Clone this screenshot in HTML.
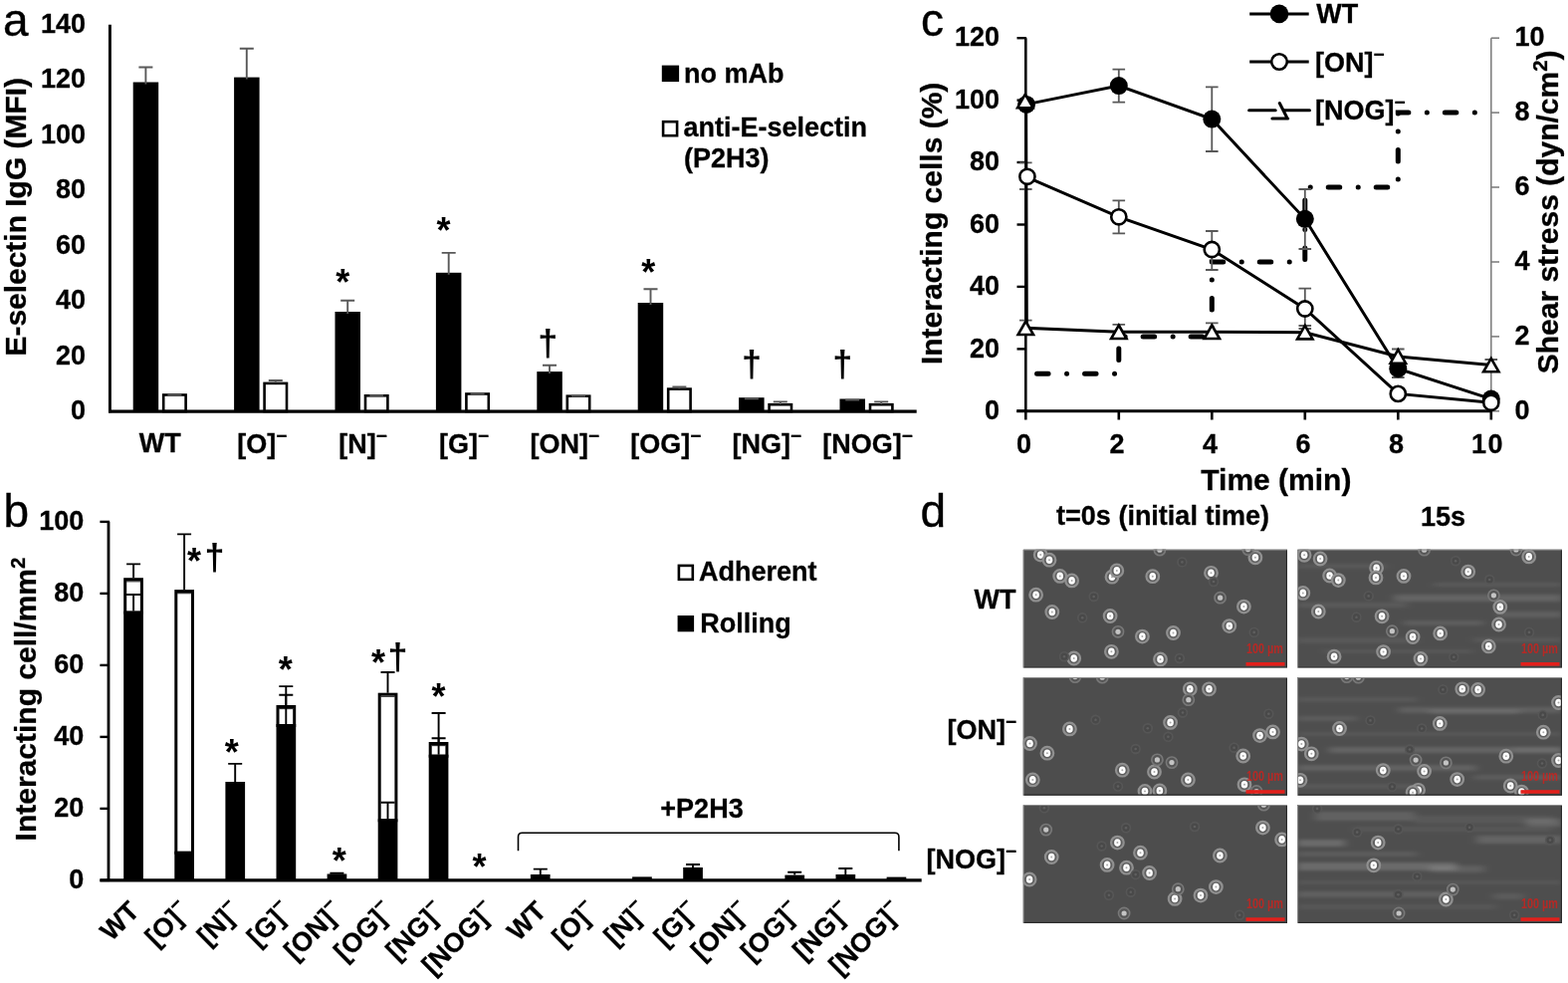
<!DOCTYPE html><html><head><meta charset="utf-8"><title>Figure</title><style>html,body{margin:0;padding:0;background:#fff;}svg{display:block;}text{font-family:"Liberation Sans", Arial, sans-serif;fill:#000;}.t27{font-size:27px;font-weight:bold;stroke:#000;stroke-width:0.3px;}.t24{font-size:24px;font-weight:bold;}.t30{font-size:30px;font-weight:bold;stroke:#000;stroke-width:0.3px;}.sm{font-size:19px;}.sup2{font-size:20.5px;}.ast{font-size:36px;font-weight:bold;}.dag{font-size:36px;font-weight:bold;}.pl{font-size:46px;font-weight:normal;stroke:#000;stroke-width:0.35px;}.sb{font-size:15px;font-weight:bold;fill:#d0201c;fill-opacity:0.8;}.eg{stroke:#595959;stroke-width:1.9;fill:none;}.eb{stroke:#000;stroke-width:1.9;fill:none;}</style></head><body>
<svg width="1575" height="987" viewBox="0 0 1575 987">
<rect width="1575" height="987" fill="#fff"/>
<text class="pl" x="3" y="36">a</text>
<text class="pl" x="3.6" y="528.6">b</text>
<text class="pl" x="925" y="35.5">c</text>
<text class="pl" x="924.6" y="528.6">d</text>
<text class="t30" transform="translate(25.8,357.5) rotate(-90)" textLength="279.5" lengthAdjust="spacingAndGlyphs">E-selectin IgG (MFI)</text>
<text class="t27" x="86" y="421.2" text-anchor="end">0</text>
<text class="t27" x="86" y="365.7" text-anchor="end">20</text>
<text class="t27" x="86" y="310.2" text-anchor="end">40</text>
<text class="t27" x="86" y="254.8" text-anchor="end">60</text>
<text class="t27" x="86" y="199.3" text-anchor="end">80</text>
<text class="t27" x="86" y="143.8" text-anchor="end">100</text>
<text class="t27" x="86" y="88.3" text-anchor="end">120</text>
<text class="t27" x="86" y="32.8" text-anchor="end">140</text>
<rect x="133.7" y="82.5" width="25.5" height="330.5" fill="#000"/>
<path class="eg" d="M146.4 84.5V67.5M139.4 67.5h14"/>
<rect x="164.2" y="396.5" width="22.4" height="16.5" fill="#fff" stroke="#000" stroke-width="2.6"/>
<path class="eg" d="M175.4 396.5V396.5M168.4 396.5h14"/>
<text class="t27" x="160.8" y="454.0" text-anchor="middle">WT</text>
<rect x="235.1" y="77.6" width="25.5" height="335.4" fill="#000"/>
<path class="eg" d="M247.8 79.6V48.8M240.8 48.8h14"/>
<rect x="265.6" y="384.9" width="22.4" height="28.1" fill="#fff" stroke="#000" stroke-width="2.6"/>
<path class="eg" d="M276.8 384.6V382.0M269.8 382.0h14"/>
<text class="t27" x="263.2" y="455.0" text-anchor="middle">[O]<tspan class="sm" dy="-11.5">−</tspan></text>
<rect x="336.5" y="313.0" width="25.5" height="100.0" fill="#000"/>
<path class="eg" d="M349.2 315.0V301.7M342.2 301.7h14"/>
<rect x="367.0" y="397.3" width="22.4" height="15.7" fill="#fff" stroke="#000" stroke-width="2.6"/>
<path class="eg" d="M378.2 397.2V397.2M371.2 397.2h14"/>
<text class="t27" x="364.6" y="455.0" text-anchor="middle">[N]<tspan class="sm" dy="-11.5">−</tspan></text>
<rect x="437.9" y="273.8" width="25.5" height="139.2" fill="#000"/>
<path class="eg" d="M450.7 275.8V253.9M443.7 253.9h14"/>
<rect x="468.4" y="395.5" width="22.4" height="17.5" fill="#fff" stroke="#000" stroke-width="2.6"/>
<path class="eg" d="M479.6 395.4V395.4M472.6 395.4h14"/>
<text class="t27" x="466.0" y="455.0" text-anchor="middle">[G]<tspan class="sm" dy="-11.5">−</tspan></text>
<rect x="539.3" y="373.1" width="25.5" height="39.9" fill="#000"/>
<path class="eg" d="M552.0 375.1V366.8M545.0 366.8h14"/>
<rect x="569.8" y="397.7" width="22.4" height="15.3" fill="#fff" stroke="#000" stroke-width="2.6"/>
<path class="eg" d="M581.0 397.6V397.6M574.0 397.6h14"/>
<text class="t27" x="567.4" y="455.0" text-anchor="middle">[ON]<tspan class="sm" dy="-11.5">−</tspan></text>
<rect x="640.7" y="304.0" width="25.5" height="109.0" fill="#000"/>
<path class="eg" d="M653.5 306.0V290.3M646.5 290.3h14"/>
<rect x="671.2" y="390.6" width="22.4" height="22.4" fill="#fff" stroke="#000" stroke-width="2.6"/>
<path class="eg" d="M682.4 390.3V388.4M675.4 388.4h14"/>
<text class="t27" x="668.8" y="455.0" text-anchor="middle">[OG]<tspan class="sm" dy="-11.5">−</tspan></text>
<rect x="742.1" y="399.2" width="25.5" height="13.8" fill="#000"/>
<path class="eg" d="M754.9 401.2V400.2M747.9 400.2h14"/>
<rect x="772.6" y="406.2" width="22.4" height="6.8" fill="#fff" stroke="#000" stroke-width="2.6"/>
<path class="eg" d="M783.8 405.9V403.4M776.8 403.4h14"/>
<text class="t27" x="770.2" y="455.0" text-anchor="middle">[NG]<tspan class="sm" dy="-11.5">−</tspan></text>
<rect x="843.5" y="400.5" width="25.5" height="12.5" fill="#000"/>
<path class="eg" d="M856.2 402.5V401.6M849.2 401.6h14"/>
<rect x="874.0" y="406.2" width="22.4" height="6.8" fill="#fff" stroke="#000" stroke-width="2.6"/>
<path class="eg" d="M885.2 405.9V403.4M878.2 403.4h14"/>
<text class="t27" x="871.6" y="455.0" text-anchor="middle">[NOG]<tspan class="sm" dy="-11.5">−</tspan></text>
<path d="M110.4 24.7V414.2" stroke="#000" stroke-width="2.9" fill="none"/>
<path d="M109 413.1H920.7" stroke="#000" stroke-width="3.3" fill="none"/>
<text class="ast" x="344.2" y="295.5" text-anchor="middle">*</text>
<text class="ast" x="445.4" y="243.5" text-anchor="middle">*</text>
<text class="ast" x="651.3" y="286" text-anchor="middle">*</text>
<text class="dag" x="550.3" y="356.5" text-anchor="middle">†</text>
<text class="dag" x="754.9" y="377.6" text-anchor="middle">†</text>
<text class="dag" x="846.2" y="377.6" text-anchor="middle">†</text>
<rect x="664.8" y="65.6" width="17.3" height="16.5" fill="#000"/>
<text class="t27" x="687" y="82.6">no mAb</text>
<rect x="666.1" y="122.2" width="14" height="14" fill="#fff" stroke="#000" stroke-width="2.6"/>
<text class="t27" x="686.5" y="136.6">anti-E-selectin</text>
<text class="t27" x="687" y="168">(P2H3)</text>
<text class="t30" transform="translate(35.7,844.4) rotate(-90)">Interacting cell/mm<tspan class="sup2" dy="-11">2</tspan></text>
<text class="t27" x="84.4" y="892.1" text-anchor="end">0</text>
<path d="M100.4 883.9H110" stroke="#000" stroke-width="2.4"/>
<text class="t27" x="84.4" y="820.1" text-anchor="end">20</text>
<path d="M100.4 811.9H110" stroke="#000" stroke-width="2.4"/>
<text class="t27" x="84.4" y="748.1" text-anchor="end">40</text>
<path d="M100.4 739.9H110" stroke="#000" stroke-width="2.4"/>
<text class="t27" x="84.4" y="676.1" text-anchor="end">60</text>
<path d="M100.4 667.9H110" stroke="#000" stroke-width="2.4"/>
<text class="t27" x="84.4" y="604.1" text-anchor="end">80</text>
<path d="M100.4 595.9H110" stroke="#000" stroke-width="2.4"/>
<text class="t27" x="84.4" y="532.1" text-anchor="end">100</text>
<path d="M100.4 523.9H110" stroke="#000" stroke-width="2.4"/>
<path class="eb" d="M134.1 580.2V566.4M127.1 566.4h14"/>
<rect x="125.7" y="581.7" width="16.7" height="33.4" fill="#fff" stroke="#000" stroke-width="3.0"/>
<path d="M126.8 583.8H141.3" stroke="#222" stroke-width="1.1"/>
<rect x="124.2" y="613.6" width="19.7" height="270.3" fill="#000"/>
<path class="eb" d="M134.1 613.6V597.0M127.1 597.0h14"/>
<path class="eb" d="M185.1 592.1V536.4M178.1 536.4h14"/>
<rect x="176.8" y="593.6" width="16.7" height="262.7" fill="#fff" stroke="#000" stroke-width="3.0"/>
<path d="M177.9 595.7H192.4" stroke="#222" stroke-width="1.1"/>
<rect x="175.3" y="854.8" width="19.7" height="29.1" fill="#000"/>
<path class="eb" d="M236.2 785.0V766.9M229.2 766.9h14"/>
<rect x="226.4" y="785.0" width="19.7" height="98.9" fill="#000"/>
<path class="eb" d="M287.3 708.0V689.1M280.3 689.1h14"/>
<rect x="279.0" y="709.5" width="16.7" height="19.0" fill="#fff" stroke="#000" stroke-width="3.0"/>
<path d="M280.1 711.6H294.6" stroke="#222" stroke-width="1.1"/>
<rect x="277.5" y="727.0" width="19.7" height="156.9" fill="#000"/>
<path class="eb" d="M287.3 727.0V697.7M280.3 697.7h14"/>
<path class="eb" d="M338.4 877.5V876.8M331.4 876.8h14"/>
<rect x="328.6" y="877.5" width="19.7" height="6.4" fill="#000"/>
<path class="eb" d="M389.5 695.7V675.0M382.5 675.0h14"/>
<rect x="381.2" y="697.2" width="16.7" height="126.6" fill="#fff" stroke="#000" stroke-width="3.0"/>
<path d="M382.3 699.3H396.8" stroke="#222" stroke-width="1.1"/>
<rect x="379.7" y="822.3" width="19.7" height="61.6" fill="#000"/>
<path class="eb" d="M389.5 822.3V805.8M382.5 805.8h14"/>
<path class="eb" d="M440.6 745.0V716.0M433.6 716.0h14"/>
<rect x="432.2" y="746.5" width="16.7" height="12.7" fill="#fff" stroke="#000" stroke-width="3.0"/>
<path d="M433.3 748.6H447.8" stroke="#222" stroke-width="1.1"/>
<rect x="430.7" y="757.7" width="19.7" height="126.2" fill="#000"/>
<path class="eb" d="M440.6 757.7V741.3M433.6 741.3h14"/>
<path class="eb" d="M542.8 878.0V872.6M535.8 872.6h14"/>
<rect x="532.9" y="878.0" width="19.7" height="5.9" fill="#000"/>
<rect x="635.1" y="880.4" width="19.7" height="3.5" fill="#000"/>
<path class="eb" d="M696.0 871.0V868.0M689.0 868.0h14"/>
<rect x="686.2" y="871.0" width="19.7" height="12.9" fill="#000"/>
<path class="eb" d="M798.2 878.6V875.7M791.2 875.7h14"/>
<rect x="788.4" y="878.6" width="19.7" height="5.3" fill="#000"/>
<path class="eb" d="M849.3 878.0V872.0M842.3 872.0h14"/>
<rect x="839.5" y="878.0" width="19.7" height="5.9" fill="#000"/>
<rect x="890.6" y="880.6" width="19.7" height="3.3" fill="#000"/>
<path d="M109 523.8V885" stroke="#000" stroke-width="2.8" fill="none"/>
<path d="M100.4 883.9H925.7" stroke="#000" stroke-width="3.2" fill="none"/>
<text class="t27" transform="translate(141.4,916.3) rotate(-45)" text-anchor="end">WT</text>
<text class="t27" transform="translate(192.4,916.3) rotate(-45)" text-anchor="end">[O]<tspan class="sm" dy="-11.5">−</tspan></text>
<text class="t27" transform="translate(243.5,916.3) rotate(-45)" text-anchor="end">[N]<tspan class="sm" dy="-11.5">−</tspan></text>
<text class="t27" transform="translate(294.6,916.3) rotate(-45)" text-anchor="end">[G]<tspan class="sm" dy="-11.5">−</tspan></text>
<text class="t27" transform="translate(345.7,916.3) rotate(-45)" text-anchor="end">[ON]<tspan class="sm" dy="-11.5">−</tspan></text>
<text class="t27" transform="translate(396.8,916.3) rotate(-45)" text-anchor="end">[OG]<tspan class="sm" dy="-11.5">−</tspan></text>
<text class="t27" transform="translate(447.9,916.3) rotate(-45)" text-anchor="end">[NG]<tspan class="sm" dy="-11.5">−</tspan></text>
<text class="t27" transform="translate(499.0,916.3) rotate(-45)" text-anchor="end">[NOG]<tspan class="sm" dy="-11.5">−</tspan></text>
<text class="t27" transform="translate(550.1,916.3) rotate(-45)" text-anchor="end">WT</text>
<text class="t27" transform="translate(601.2,916.3) rotate(-45)" text-anchor="end">[O]<tspan class="sm" dy="-11.5">−</tspan></text>
<text class="t27" transform="translate(652.2,916.3) rotate(-45)" text-anchor="end">[N]<tspan class="sm" dy="-11.5">−</tspan></text>
<text class="t27" transform="translate(703.3,916.3) rotate(-45)" text-anchor="end">[G]<tspan class="sm" dy="-11.5">−</tspan></text>
<text class="t27" transform="translate(754.4,916.3) rotate(-45)" text-anchor="end">[ON]<tspan class="sm" dy="-11.5">−</tspan></text>
<text class="t27" transform="translate(805.5,916.3) rotate(-45)" text-anchor="end">[OG]<tspan class="sm" dy="-11.5">−</tspan></text>
<text class="t27" transform="translate(856.6,916.3) rotate(-45)" text-anchor="end">[NG]<tspan class="sm" dy="-11.5">−</tspan></text>
<text class="t27" transform="translate(907.7,916.3) rotate(-45)" text-anchor="end">[NOG]<tspan class="sm" dy="-11.5">−</tspan></text>
<text class="ast" x="195" y="575.5" text-anchor="middle">*</text>
<text class="dag" x="215.5" y="572.4" text-anchor="middle">†</text>
<text class="ast" x="232.7" y="768" text-anchor="middle">*</text>
<text class="ast" x="286.8" y="685" text-anchor="middle">*</text>
<text class="ast" x="340.8" y="877.3" text-anchor="middle">*</text>
<text class="ast" x="380" y="678" text-anchor="middle">*</text>
<text class="dag" x="399.6" y="672" text-anchor="middle">†</text>
<text class="ast" x="440.5" y="711.5" text-anchor="middle">*</text>
<text class="ast" x="481.5" y="883" text-anchor="middle">*</text>
<path d="M520.5 854.3V840.3Q520.5 836.3 524.5 836.3H898.9Q902.9 836.3 902.9 840.3V854.3" stroke="#000" stroke-width="1.6" fill="none"/>
<text class="t27" x="705" y="821.4" text-anchor="middle">+P2H3</text>
<rect x="681.9" y="567.9" width="13.9" height="13.9" fill="#fff" stroke="#000" stroke-width="2.6"/>
<text class="t27" x="702" y="583.4">Adherent</text>
<rect x="680.6" y="618" width="16.5" height="16.3" fill="#000"/>
<text class="t27" x="703.2" y="634.6">Rolling</text>
<text class="t30" transform="translate(945.9,366.1) rotate(-90)">Interacting cells (%)</text>
<text class="t30" transform="translate(1565.1,375.3) rotate(-90)">Shear stress (dyn/cm<tspan class="sup2" dy="-11">2</tspan><tspan dy="11">)</tspan></text>
<text class="t27" x="1004" y="421.0" text-anchor="end">0</text>
<path d="M1021.5 412.8H1031" stroke="#000" stroke-width="2.4"/>
<text class="t27" x="1004" y="358.6" text-anchor="end">20</text>
<path d="M1021.5 350.4H1031" stroke="#000" stroke-width="2.4"/>
<text class="t27" x="1004" y="296.1" text-anchor="end">40</text>
<path d="M1021.5 287.9H1031" stroke="#000" stroke-width="2.4"/>
<text class="t27" x="1004" y="233.7" text-anchor="end">60</text>
<path d="M1021.5 225.5H1031" stroke="#000" stroke-width="2.4"/>
<text class="t27" x="1004" y="171.2" text-anchor="end">80</text>
<path d="M1021.5 163.0H1031" stroke="#000" stroke-width="2.4"/>
<text class="t27" x="1004" y="108.8" text-anchor="end">100</text>
<path d="M1021.5 100.6H1031" stroke="#000" stroke-width="2.4"/>
<text class="t27" x="1004" y="46.4" text-anchor="end">120</text>
<path d="M1021.5 38.2H1031" stroke="#000" stroke-width="2.4"/>
<text class="t27" x="1521.5" y="421.0">0</text>
<path d="M1497.8 412.8H1506" stroke="#808080" stroke-width="1.6"/>
<text class="t27" x="1521.5" y="346.1">2</text>
<path d="M1497.8 337.9H1506" stroke="#808080" stroke-width="1.6"/>
<text class="t27" x="1521.5" y="271.2">4</text>
<path d="M1497.8 263.0H1506" stroke="#808080" stroke-width="1.6"/>
<text class="t27" x="1521.5" y="196.2">6</text>
<path d="M1497.8 188.0H1506" stroke="#808080" stroke-width="1.6"/>
<text class="t27" x="1521.5" y="121.3">8</text>
<path d="M1497.8 113.1H1506" stroke="#808080" stroke-width="1.6"/>
<text class="t27" x="1521.5" y="46.4">10</text>
<path d="M1497.8 38.2H1506" stroke="#808080" stroke-width="1.6"/>
<text class="t27" x="1028.4" y="455.3" text-anchor="middle">0</text>
<path d="M1030.3 412V421.5" stroke="#000" stroke-width="2.6"/>
<text class="t27" x="1121.9" y="455.3" text-anchor="middle">2</text>
<path d="M1123.8 412V421.5" stroke="#000" stroke-width="2.6"/>
<text class="t27" x="1215.4" y="455.3" text-anchor="middle">4</text>
<path d="M1217.3 412V421.5" stroke="#000" stroke-width="2.6"/>
<text class="t27" x="1308.9" y="455.3" text-anchor="middle">6</text>
<path d="M1310.8 412V421.5" stroke="#000" stroke-width="2.6"/>
<text class="t27" x="1402.4" y="455.3" text-anchor="middle">8</text>
<path d="M1404.3 412V421.5" stroke="#000" stroke-width="2.6"/>
<text class="t27" x="1494.6" y="455.3" text-anchor="middle" letter-spacing="1.5">10</text>
<path d="M1497.8 412V421.5" stroke="#000" stroke-width="2.6"/>
<text class="t30" x="1206.3" y="491.8">Time (min)</text>
<path d="M1497.8 38.2V412.8" stroke="#808080" stroke-width="1.6" fill="none"/>
<path d="M1030.3 38.2V414" stroke="#000" stroke-width="2.6" fill="none"/>
<path d="M1021.2 412.8H1499" stroke="#000" stroke-width="3" fill="none"/>
<path d="M1030.3 375.3 L1123.8 375.3 L1123.8 337.9 L1217.3 337.9 L1217.3 263.0 L1310.8 263.0 L1310.8 188.0 L1404.3 188.0 L1404.3 113.1 L1486.1 113.1" stroke="#000" stroke-width="5" fill="none" stroke-linecap="round" stroke-dasharray="11.5 18.5 0.01 17.99" stroke-dashoffset="36.76"/>
<path d="M1030.3 163.3V190.0M1024.0 163.3h12.6M1024.0 190.0h12.6M1030.3 321.7V329.3M1024.0 321.7h12.6M1123.8 69.7V102.6M1117.5 69.7h12.6M1117.5 102.6h12.6M1123.8 201.4V234.3M1117.5 201.4h12.6M1117.5 234.3h12.6M1123.8 325.8V333.3M1117.5 325.8h12.6M1217.3 87.4V152.0M1211.0 87.4h12.6M1211.0 152.0h12.6M1217.3 232.0V271.0M1211.0 232.0h12.6M1211.0 271.0h12.6M1217.3 324.4V333.3M1211.0 324.4h12.6M1310.8 190.0V250.0M1304.5 190.0h12.6M1304.5 250.0h12.6M1310.8 289.7V330.0M1304.5 289.7h12.6M1304.5 330.0h12.6M1310.8 327.0V333.7M1304.5 327.0h12.6M1404.3 350.5V379.0M1398.0 350.5h12.6M1398.0 379.0h12.6M1404.3 350.5V358.0M1398.0 350.5h12.6M1497.8 361.0V366.6M1491.5 361.0h12.6" stroke="#595959" stroke-width="1.8" fill="none"/>
<path d="M1030.3 104.9 L1123.8 86.1 L1217.3 119.6 L1310.8 219.8 L1404.3 370.2 L1497.8 400.6" stroke="#000" stroke-width="3" fill="none"/>
<path d="M1030.3 177.3 L1123.8 217.8 L1217.3 250.5 L1310.8 310.0 L1404.3 395.4 L1497.8 404.3" stroke="#000" stroke-width="3" fill="none"/>
<path d="M1030.6 101.5L1031.3 326 1030.3 329.3 L1123.8 333.3 L1217.3 333.3 L1310.8 333.7 L1404.3 358.0 L1497.8 366.6" stroke="#000" stroke-width="3" fill="none"/>
<circle cx="1031.0" cy="104.9" r="9" fill="#000"/>
<circle cx="1123.8" cy="86.1" r="9" fill="#000"/>
<circle cx="1217.3" cy="119.6" r="9" fill="#000"/>
<circle cx="1310.8" cy="219.8" r="9" fill="#000"/>
<circle cx="1404.3" cy="370.2" r="9" fill="#000"/>
<circle cx="1497.8" cy="400.6" r="9" fill="#000"/>
<circle cx="1031.9" cy="177.3" r="7.6" fill="#fff" stroke="#000" stroke-width="2.6"/>
<circle cx="1123.8" cy="217.8" r="7.6" fill="#fff" stroke="#000" stroke-width="2.6"/>
<circle cx="1217.3" cy="250.5" r="7.6" fill="#fff" stroke="#000" stroke-width="2.6"/>
<circle cx="1310.8" cy="310.0" r="7.6" fill="#fff" stroke="#000" stroke-width="2.6"/>
<circle cx="1404.3" cy="395.4" r="7.6" fill="#fff" stroke="#000" stroke-width="2.6"/>
<circle cx="1497.8" cy="404.3" r="7.6" fill="#fff" stroke="#000" stroke-width="2.6"/>
<path d="M1029.8 94.7L1037.5 108.2H1022.1Z" fill="#fff" stroke="#000" stroke-width="2.6" stroke-linejoin="miter"/>
<path d="M1030.3 322.5L1038.0 336.0H1022.6Z" fill="#fff" stroke="#000" stroke-width="2.6" stroke-linejoin="miter"/>
<path d="M1123.8 326.5L1131.5 340.0H1116.1Z" fill="#fff" stroke="#000" stroke-width="2.6" stroke-linejoin="miter"/>
<path d="M1217.3 326.5L1225.0 340.0H1209.6Z" fill="#fff" stroke="#000" stroke-width="2.6" stroke-linejoin="miter"/>
<path d="M1310.8 326.9L1318.5 340.4H1303.1Z" fill="#fff" stroke="#000" stroke-width="2.6" stroke-linejoin="miter"/>
<path d="M1404.3 351.2L1412.0 364.7H1396.6Z" fill="#fff" stroke="#000" stroke-width="2.6" stroke-linejoin="miter"/>
<path d="M1497.8 359.8L1505.5 373.3H1490.1Z" fill="#fff" stroke="#000" stroke-width="2.6" stroke-linejoin="miter"/>
<path d="M1255.2 13.9H1314.7" stroke="#000" stroke-width="3"/>
<circle cx="1285" cy="13.9" r="9.3" fill="#000"/>
<text class="t27" x="1322.3" y="22.8">WT</text>
<path d="M1255.2 62H1314.7" stroke="#000" stroke-width="3"/>
<circle cx="1285" cy="62" r="7.8" fill="#fff" stroke="#000" stroke-width="2.6"/>
<text class="t27" x="1321" y="72">[ON]<tspan class="sm" dy="-11.5">−</tspan></text>
<path d="M1254.6 110.8H1281.2M1290.1 110.8H1315.5M1285.3 103.5L1293.2 119M1277.9 119H1293.7" stroke="#000" stroke-width="3" stroke-linecap="round" fill="none"/>
<text class="t27" x="1321" y="120.3">[NOG]<tspan class="sm" dy="-11.5">−</tspan></text>
<text class="t27" x="1168" y="527.4" text-anchor="middle">t=0s (initial time)</text>
<text class="t27" x="1449.5" y="528.3" text-anchor="middle">15s</text>
<text class="t27" x="1020.5" y="610.6" text-anchor="end">WT</text>
<text class="t27" x="1021" y="742.2" text-anchor="end">[ON]<tspan class="sm" dy="-11.5">−</tspan></text>
<text class="t27" x="1021" y="872" text-anchor="end">[NOG]<tspan class="sm" dy="-11.5">−</tspan></text>
<defs><filter id="bl" x="-5%" y="-5%" width="110%" height="110%"><feGaussianBlur stdDeviation="0.7"/></filter><filter id="bs" x="-10%" y="-50%" width="120%" height="200%"><feGaussianBlur stdDeviation="4 1.8"/></filter>
<clipPath id="cp00"><rect x="1027.6" y="551.6" width="265.4" height="119.0"/></clipPath>
<clipPath id="cp01"><rect x="1303.1" y="551.6" width="265.9" height="119.0"/></clipPath>
<clipPath id="cp10"><rect x="1027.6" y="680.0" width="265.4" height="118.8"/></clipPath>
<clipPath id="cp11"><rect x="1303.1" y="680.0" width="265.9" height="118.8"/></clipPath>
<clipPath id="cp20"><rect x="1027.6" y="808.0" width="265.4" height="118.9"/></clipPath>
<clipPath id="cp21"><rect x="1303.1" y="808.0" width="265.9" height="118.9"/></clipPath>
</defs>
<g clip-path="url(#cp00)">
<rect x="1027.6" y="551.6" width="265.4" height="119.0" fill="#4d4d4d"/>
<g filter="url(#bl)">
<circle cx="1045.2" cy="557.1" r="6.3" fill="#5e5e5e" stroke="#909090" stroke-width="2.2"/><ellipse cx="1045.2" cy="557.1" rx="3.3" ry="3.8" fill="#fefefe"/><circle cx="1045.2" cy="557.1" r="1.0" fill="#aaa"/>
<circle cx="1054" cy="562.2" r="6.3" fill="#5e5e5e" stroke="#909090" stroke-width="2.2"/><ellipse cx="1054" cy="562.2" rx="3.3" ry="3.8" fill="#fefefe"/><circle cx="1054" cy="562.2" r="1.0" fill="#aaa"/>
<circle cx="1064.7" cy="578.4" r="6.3" fill="#5e5e5e" stroke="#909090" stroke-width="2.2"/><ellipse cx="1064.7" cy="578.4" rx="3.3" ry="3.8" fill="#fefefe"/><circle cx="1064.7" cy="578.4" r="1.0" fill="#aaa"/>
<circle cx="1076.6" cy="582.9" r="6.3" fill="#5e5e5e" stroke="#909090" stroke-width="2.2"/><ellipse cx="1076.6" cy="582.9" rx="3.3" ry="3.8" fill="#fefefe"/><circle cx="1076.6" cy="582.9" r="1.0" fill="#aaa"/>
<circle cx="1040.6" cy="597.2" r="6.3" fill="#5e5e5e" stroke="#909090" stroke-width="2.2"/><ellipse cx="1040.6" cy="597.2" rx="3.3" ry="3.8" fill="#fefefe"/><circle cx="1040.6" cy="597.2" r="1.0" fill="#aaa"/>
<circle cx="1056.8" cy="614.5" r="6.3" fill="#5e5e5e" stroke="#909090" stroke-width="2.2"/><ellipse cx="1056.8" cy="614.5" rx="3.3" ry="3.8" fill="#fefefe"/><circle cx="1056.8" cy="614.5" r="1.0" fill="#aaa"/>
<circle cx="1117" cy="579.2" r="6.3" fill="#5e5e5e" stroke="#909090" stroke-width="2.2"/><ellipse cx="1117" cy="579.2" rx="3.3" ry="3.8" fill="#fefefe"/><circle cx="1117" cy="579.2" r="1.0" fill="#aaa"/>
<circle cx="1121.8" cy="572.9" r="6.3" fill="#5e5e5e" stroke="#909090" stroke-width="2.2"/><ellipse cx="1121.8" cy="572.9" rx="3.3" ry="3.8" fill="#fefefe"/><circle cx="1121.8" cy="572.9" r="1.0" fill="#aaa"/>
<circle cx="1157.8" cy="578.7" r="6.3" fill="#5e5e5e" stroke="#909090" stroke-width="2.2"/><ellipse cx="1157.8" cy="578.7" rx="3.3" ry="3.8" fill="#fefefe"/><circle cx="1157.8" cy="578.7" r="1.0" fill="#aaa"/>
<circle cx="1115.1" cy="618.5" r="6.3" fill="#5e5e5e" stroke="#909090" stroke-width="2.2"/><ellipse cx="1115.1" cy="618.5" rx="3.3" ry="3.8" fill="#fefefe"/><circle cx="1115.1" cy="618.5" r="1.0" fill="#aaa"/>
<circle cx="1147.4" cy="639.1" r="6.3" fill="#5e5e5e" stroke="#909090" stroke-width="2.2"/><ellipse cx="1147.4" cy="639.1" rx="3.3" ry="3.8" fill="#fefefe"/><circle cx="1147.4" cy="639.1" r="1.0" fill="#aaa"/>
<circle cx="1116.4" cy="654.3" r="6.3" fill="#5e5e5e" stroke="#909090" stroke-width="2.2"/><ellipse cx="1116.4" cy="654.3" rx="3.3" ry="3.8" fill="#fefefe"/><circle cx="1116.4" cy="654.3" r="1.0" fill="#aaa"/>
<circle cx="1078.7" cy="661" r="6.3" fill="#5e5e5e" stroke="#909090" stroke-width="2.2"/><ellipse cx="1078.7" cy="661" rx="3.3" ry="3.8" fill="#fefefe"/><circle cx="1078.7" cy="661" r="1.0" fill="#aaa"/>
<circle cx="1098.7" cy="599" r="4.4" fill="#4a4a4a" stroke="#575757" stroke-width="1.6"/><circle cx="1098.7" cy="599" r="1.3" fill="#5e5e5e"/>
<circle cx="1123" cy="634.3" r="5.6" fill="#575757" stroke="#787878" stroke-width="1.6"/><circle cx="1123" cy="634.3" r="2.6" fill="#c4c4c4"/>
<circle cx="1087.2" cy="620.3" r="4.4" fill="#4a4a4a" stroke="#575757" stroke-width="1.6"/><circle cx="1087.2" cy="620.3" r="1.3" fill="#5e5e5e"/>
<circle cx="1069" cy="659.2" r="4.4" fill="#4a4a4a" stroke="#575757" stroke-width="1.6"/><circle cx="1069" cy="659.2" r="1.3" fill="#5e5e5e"/>
<circle cx="1260.9" cy="559.8" r="6.3" fill="#5e5e5e" stroke="#909090" stroke-width="2.2"/><ellipse cx="1260.9" cy="559.8" rx="3.3" ry="3.8" fill="#fefefe"/><circle cx="1260.9" cy="559.8" r="1.0" fill="#aaa"/>
<circle cx="1253.6" cy="551.6" r="5.6" fill="#575757" stroke="#787878" stroke-width="1.6"/><circle cx="1253.6" cy="551.6" r="2.6" fill="#c4c4c4"/>
<circle cx="1164.9" cy="552.2" r="5.6" fill="#575757" stroke="#787878" stroke-width="1.6"/><circle cx="1164.9" cy="552.2" r="2.6" fill="#c4c4c4"/>
<circle cx="1216.5" cy="575.3" r="6.3" fill="#5e5e5e" stroke="#909090" stroke-width="2.2"/><ellipse cx="1216.5" cy="575.3" rx="3.3" ry="3.8" fill="#fefefe"/><circle cx="1216.5" cy="575.3" r="1.0" fill="#aaa"/>
<circle cx="1249.4" cy="609.1" r="6.3" fill="#5e5e5e" stroke="#909090" stroke-width="2.2"/><ellipse cx="1249.4" cy="609.1" rx="3.3" ry="3.8" fill="#fefefe"/><circle cx="1249.4" cy="609.1" r="1.0" fill="#aaa"/>
<circle cx="1234.8" cy="628.6" r="6.3" fill="#5e5e5e" stroke="#909090" stroke-width="2.2"/><ellipse cx="1234.8" cy="628.6" rx="3.3" ry="3.8" fill="#fefefe"/><circle cx="1234.8" cy="628.6" r="1.0" fill="#aaa"/>
<circle cx="1178.5" cy="635.5" r="6.3" fill="#5e5e5e" stroke="#909090" stroke-width="2.2"/><ellipse cx="1178.5" cy="635.5" rx="3.3" ry="3.8" fill="#fefefe"/><circle cx="1178.5" cy="635.5" r="1.0" fill="#aaa"/>
<circle cx="1165.5" cy="661.9" r="6.3" fill="#5e5e5e" stroke="#909090" stroke-width="2.2"/><ellipse cx="1165.5" cy="661.9" rx="3.3" ry="3.8" fill="#fefefe"/><circle cx="1165.5" cy="661.9" r="1.0" fill="#aaa"/>
<circle cx="1187.4" cy="564.4" r="4.4" fill="#4a4a4a" stroke="#575757" stroke-width="1.6"/><circle cx="1187.4" cy="564.4" r="1.3" fill="#5e5e5e"/>
<circle cx="1225.6" cy="600.2" r="5.6" fill="#575757" stroke="#787878" stroke-width="1.6"/><circle cx="1225.6" cy="600.2" r="2.6" fill="#c4c4c4"/>
<circle cx="1184.9" cy="661" r="4.4" fill="#4a4a4a" stroke="#575757" stroke-width="1.6"/><circle cx="1184.9" cy="661" r="1.3" fill="#5e5e5e"/>
<circle cx="1219" cy="584" r="4.4" fill="#4a4a4a" stroke="#575757" stroke-width="1.6"/><circle cx="1219" cy="584" r="1.3" fill="#5e5e5e"/>
<circle cx="1259.7" cy="634.9" r="4.4" fill="#4a4a4a" stroke="#575757" stroke-width="1.6"/><circle cx="1259.7" cy="634.9" r="1.3" fill="#5e5e5e"/>
</g>
<rect x="1251.5" y="665.0" width="39" height="3.6" fill="#e3201b"/>
<text class="sb" x="1252.0" y="656.1" textLength="37" lengthAdjust="spacingAndGlyphs">100 µm</text>
</g>
<path d="M1028.1 670.6V552.1H1293.0" fill="none" stroke="#8c8c8c" stroke-width="1"/>
<path d="M1028.6 670.0H1292.4V552.6" fill="none" stroke="#2c2c2c" stroke-width="1.2"/>
<g clip-path="url(#cp01)">
<rect x="1303.1" y="551.6" width="265.9" height="119.0" fill="#4e4e4e"/>
<g filter="url(#bs)" fill="#ffffff">
<rect x="1400" y="597" width="169" height="7" fill-opacity="0.12"/>
<rect x="1505" y="614" width="64" height="6" fill-opacity="0.1"/>
<rect x="1303" y="605" width="110" height="5" fill-opacity="0.07"/>
<rect x="1410" y="623" width="80" height="5" fill-opacity="0.09"/>
<rect x="1303" y="640" width="120" height="6" fill-opacity="0.06"/>
<rect x="1303" y="566" width="90" height="5" fill-opacity="0.06"/>
<rect x="1440" y="585" width="129" height="4" fill-opacity="0.07"/>
<rect x="1330" y="652" width="150" height="4" fill-opacity="0.05"/>
<rect x="1480" y="640" width="89" height="5" fill-opacity="0.06"/>
</g>
<g filter="url(#bl)">
<circle cx="1310.1" cy="557.3" r="6.3" fill="#5e5e5e" stroke="#909090" stroke-width="2.2"/><ellipse cx="1310.1" cy="557.3" rx="3.3" ry="3.8" fill="#fefefe"/><circle cx="1310.1" cy="557.3" r="1.0" fill="#aaa"/>
<circle cx="1326.1" cy="561" r="6.3" fill="#5e5e5e" stroke="#909090" stroke-width="2.2"/><ellipse cx="1326.1" cy="561" rx="3.3" ry="3.8" fill="#fefefe"/><circle cx="1326.1" cy="561" r="1.0" fill="#aaa"/>
<circle cx="1335.6" cy="578" r="6.3" fill="#5e5e5e" stroke="#909090" stroke-width="2.2"/><ellipse cx="1335.6" cy="578" rx="3.3" ry="3.8" fill="#fefefe"/><circle cx="1335.6" cy="578" r="1.0" fill="#aaa"/>
<circle cx="1344.3" cy="582.6" r="6.3" fill="#5e5e5e" stroke="#909090" stroke-width="2.2"/><ellipse cx="1344.3" cy="582.6" rx="3.3" ry="3.8" fill="#fefefe"/><circle cx="1344.3" cy="582.6" r="1.0" fill="#aaa"/>
<circle cx="1308.8" cy="595.4" r="6.3" fill="#5e5e5e" stroke="#909090" stroke-width="2.2"/><ellipse cx="1308.8" cy="595.4" rx="3.3" ry="3.8" fill="#fefefe"/><circle cx="1308.8" cy="595.4" r="1.0" fill="#aaa"/>
<circle cx="1324.3" cy="614" r="6.3" fill="#5e5e5e" stroke="#909090" stroke-width="2.2"/><ellipse cx="1324.3" cy="614" rx="3.3" ry="3.8" fill="#fefefe"/><circle cx="1324.3" cy="614" r="1.0" fill="#aaa"/>
<circle cx="1382.6" cy="570.2" r="6.3" fill="#5e5e5e" stroke="#909090" stroke-width="2.2"/><ellipse cx="1382.6" cy="570.2" rx="3.3" ry="3.8" fill="#fefefe"/><circle cx="1382.6" cy="570.2" r="1.0" fill="#aaa"/>
<circle cx="1382" cy="579.9" r="6.3" fill="#5e5e5e" stroke="#909090" stroke-width="2.2"/><ellipse cx="1382" cy="579.9" rx="3.3" ry="3.8" fill="#fefefe"/><circle cx="1382" cy="579.9" r="1.0" fill="#aaa"/>
<circle cx="1410" cy="578.4" r="6.3" fill="#5e5e5e" stroke="#909090" stroke-width="2.2"/><ellipse cx="1410" cy="578.4" rx="3.3" ry="3.8" fill="#fefefe"/><circle cx="1410" cy="578.4" r="1.0" fill="#aaa"/>
<circle cx="1388.1" cy="618.8" r="6.3" fill="#5e5e5e" stroke="#909090" stroke-width="2.2"/><ellipse cx="1388.1" cy="618.8" rx="3.3" ry="3.8" fill="#fefefe"/><circle cx="1388.1" cy="618.8" r="1.0" fill="#aaa"/>
<circle cx="1419.1" cy="639.5" r="6.3" fill="#5e5e5e" stroke="#909090" stroke-width="2.2"/><ellipse cx="1419.1" cy="639.5" rx="3.3" ry="3.8" fill="#fefefe"/><circle cx="1419.1" cy="639.5" r="1.0" fill="#aaa"/>
<circle cx="1389.6" cy="654.6" r="6.3" fill="#5e5e5e" stroke="#909090" stroke-width="2.2"/><ellipse cx="1389.6" cy="654.6" rx="3.3" ry="3.8" fill="#fefefe"/><circle cx="1389.6" cy="654.6" r="1.0" fill="#aaa"/>
<circle cx="1340.1" cy="659.2" r="6.3" fill="#5e5e5e" stroke="#909090" stroke-width="2.2"/><ellipse cx="1340.1" cy="659.2" rx="3.3" ry="3.8" fill="#fefefe"/><circle cx="1340.1" cy="659.2" r="1.0" fill="#aaa"/>
<circle cx="1427" cy="661.4" r="6.3" fill="#5e5e5e" stroke="#909090" stroke-width="2.2"/><ellipse cx="1427" cy="661.4" rx="3.3" ry="3.8" fill="#fefefe"/><circle cx="1427" cy="661.4" r="1.0" fill="#aaa"/>
<circle cx="1430.6" cy="552.2" r="5.6" fill="#575757" stroke="#787878" stroke-width="1.6"/><circle cx="1430.6" cy="552.2" r="2.6" fill="#c4c4c4"/>
<circle cx="1374.7" cy="598.4" r="4.4" fill="#4a4a4a" stroke="#575757" stroke-width="1.6"/><circle cx="1374.7" cy="598.4" r="1.3" fill="#5e5e5e"/>
<circle cx="1398.4" cy="633.7" r="5.6" fill="#575757" stroke="#787878" stroke-width="1.6"/><circle cx="1398.4" cy="633.7" r="2.6" fill="#c4c4c4"/>
<circle cx="1362.5" cy="619.7" r="4.4" fill="#4a4a4a" stroke="#575757" stroke-width="1.6"/><circle cx="1362.5" cy="619.7" r="1.3" fill="#5e5e5e"/>
<circle cx="1535.7" cy="558.9" r="6.3" fill="#5e5e5e" stroke="#909090" stroke-width="2.2"/><ellipse cx="1535.7" cy="558.9" rx="3.3" ry="3.8" fill="#fefefe"/><circle cx="1535.7" cy="558.9" r="1.0" fill="#aaa"/>
<circle cx="1522.9" cy="552" r="5.6" fill="#575757" stroke="#787878" stroke-width="1.6"/><circle cx="1522.9" cy="552" r="2.6" fill="#c4c4c4"/>
<circle cx="1474.7" cy="574.1" r="6.3" fill="#5e5e5e" stroke="#909090" stroke-width="2.2"/><ellipse cx="1474.7" cy="574.1" rx="3.3" ry="3.8" fill="#fefefe"/><circle cx="1474.7" cy="574.1" r="1.0" fill="#aaa"/>
<circle cx="1506.8" cy="609.4" r="6.3" fill="#5e5e5e" stroke="#909090" stroke-width="2.2"/><ellipse cx="1506.8" cy="609.4" rx="3.3" ry="3.8" fill="#fefefe"/><circle cx="1506.8" cy="609.4" r="1.0" fill="#aaa"/>
<circle cx="1505.5" cy="627" r="6.3" fill="#5e5e5e" stroke="#909090" stroke-width="2.2"/><ellipse cx="1505.5" cy="627" rx="3.3" ry="3.8" fill="#fefefe"/><circle cx="1505.5" cy="627" r="1.0" fill="#aaa"/>
<circle cx="1446.7" cy="635.9" r="6.3" fill="#5e5e5e" stroke="#909090" stroke-width="2.2"/><ellipse cx="1446.7" cy="635.9" rx="3.3" ry="3.8" fill="#fefefe"/><circle cx="1446.7" cy="635.9" r="1.0" fill="#aaa"/>
<circle cx="1495.3" cy="648.9" r="6.3" fill="#5e5e5e" stroke="#909090" stroke-width="2.2"/><ellipse cx="1495.3" cy="648.9" rx="3.3" ry="3.8" fill="#fefefe"/><circle cx="1495.3" cy="648.9" r="1.0" fill="#aaa"/>
<circle cx="1462.1" cy="563.2" r="4.4" fill="#4a4a4a" stroke="#575757" stroke-width="1.6"/><circle cx="1462.1" cy="563.2" r="1.3" fill="#5e5e5e"/>
<circle cx="1496.2" cy="582" r="4.4" fill="#4a4a4a" stroke="#575757" stroke-width="1.6"/><circle cx="1496.2" cy="582" r="1.3" fill="#5e5e5e"/>
<circle cx="1500.4" cy="597.8" r="5.6" fill="#575757" stroke="#787878" stroke-width="1.6"/><circle cx="1500.4" cy="597.8" r="2.6" fill="#c4c4c4"/>
<circle cx="1460.3" cy="659.8" r="4.4" fill="#4a4a4a" stroke="#575757" stroke-width="1.6"/><circle cx="1460.3" cy="659.8" r="1.3" fill="#5e5e5e"/>
<circle cx="1536" cy="634.9" r="4.4" fill="#4a4a4a" stroke="#575757" stroke-width="1.6"/><circle cx="1536" cy="634.9" r="1.3" fill="#5e5e5e"/>
</g>
<rect x="1527.5" y="665.0" width="39" height="3.6" fill="#e3201b"/>
<text class="sb" x="1528.0" y="656.1" textLength="37" lengthAdjust="spacingAndGlyphs">100 µm</text>
</g>
<path d="M1303.6 670.6V552.1H1569.0" fill="none" stroke="#8c8c8c" stroke-width="1"/>
<path d="M1304.1 670.0H1568.4V552.6" fill="none" stroke="#2c2c2c" stroke-width="1.2"/>
<g clip-path="url(#cp10)">
<rect x="1027.6" y="680.0" width="265.4" height="118.8" fill="#4d4d4d"/>
<g filter="url(#bl)">
<circle cx="1079.9" cy="679.6" r="5.6" fill="#575757" stroke="#787878" stroke-width="1.6"/><circle cx="1079.9" cy="679.6" r="2.6" fill="#c4c4c4"/>
<circle cx="1107.2" cy="680.2" r="5.6" fill="#575757" stroke="#787878" stroke-width="1.6"/><circle cx="1107.2" cy="680.2" r="2.6" fill="#c4c4c4"/>
<circle cx="1074.4" cy="731.9" r="6.3" fill="#5e5e5e" stroke="#909090" stroke-width="2.2"/><ellipse cx="1074.4" cy="731.9" rx="3.3" ry="3.8" fill="#fefefe"/><circle cx="1074.4" cy="731.9" r="1.0" fill="#aaa"/>
<circle cx="1034.5" cy="746.5" r="6.3" fill="#5e5e5e" stroke="#909090" stroke-width="2.2"/><ellipse cx="1034.5" cy="746.5" rx="3.3" ry="3.8" fill="#fefefe"/><circle cx="1034.5" cy="746.5" r="1.0" fill="#aaa"/>
<circle cx="1051.9" cy="756.2" r="6.3" fill="#5e5e5e" stroke="#909090" stroke-width="2.2"/><ellipse cx="1051.9" cy="756.2" rx="3.3" ry="3.8" fill="#fefefe"/><circle cx="1051.9" cy="756.2" r="1.0" fill="#aaa"/>
<circle cx="1037.3" cy="782.9" r="6.3" fill="#5e5e5e" stroke="#909090" stroke-width="2.2"/><ellipse cx="1037.3" cy="782.9" rx="3.3" ry="3.8" fill="#fefefe"/><circle cx="1037.3" cy="782.9" r="1.0" fill="#aaa"/>
<circle cx="1127.3" cy="773.2" r="6.3" fill="#5e5e5e" stroke="#909090" stroke-width="2.2"/><ellipse cx="1127.3" cy="773.2" rx="3.3" ry="3.8" fill="#fefefe"/><circle cx="1127.3" cy="773.2" r="1.0" fill="#aaa"/>
<circle cx="1159.5" cy="775" r="6.3" fill="#5e5e5e" stroke="#909090" stroke-width="2.2"/><ellipse cx="1159.5" cy="775" rx="3.3" ry="3.8" fill="#fefefe"/><circle cx="1159.5" cy="775" r="1.0" fill="#aaa"/>
<circle cx="1150" cy="794.5" r="6.3" fill="#5e5e5e" stroke="#909090" stroke-width="2.2"/><ellipse cx="1150" cy="794.5" rx="3.3" ry="3.8" fill="#fefefe"/><circle cx="1150" cy="794.5" r="1.0" fill="#aaa"/>
<circle cx="1100.5" cy="722.8" r="4.4" fill="#4a4a4a" stroke="#575757" stroke-width="1.6"/><circle cx="1100.5" cy="722.8" r="1.3" fill="#5e5e5e"/>
<circle cx="1152.8" cy="731.3" r="4.4" fill="#4a4a4a" stroke="#575757" stroke-width="1.6"/><circle cx="1152.8" cy="731.3" r="1.3" fill="#5e5e5e"/>
<circle cx="1140.7" cy="752" r="4.4" fill="#4a4a4a" stroke="#575757" stroke-width="1.6"/><circle cx="1140.7" cy="752" r="1.3" fill="#5e5e5e"/>
<circle cx="1123" cy="789.6" r="4.4" fill="#4a4a4a" stroke="#575757" stroke-width="1.6"/><circle cx="1123" cy="789.6" r="1.3" fill="#5e5e5e"/>
<circle cx="1195.3" cy="691.8" r="6.3" fill="#5e5e5e" stroke="#909090" stroke-width="2.2"/><ellipse cx="1195.3" cy="691.8" rx="3.3" ry="3.8" fill="#fefefe"/><circle cx="1195.3" cy="691.8" r="1.0" fill="#aaa"/>
<circle cx="1214.5" cy="691.8" r="6.3" fill="#5e5e5e" stroke="#909090" stroke-width="2.2"/><ellipse cx="1214.5" cy="691.8" rx="3.3" ry="3.8" fill="#fefefe"/><circle cx="1214.5" cy="691.8" r="1.0" fill="#aaa"/>
<circle cx="1193.8" cy="702.7" r="5.6" fill="#575757" stroke="#787878" stroke-width="1.6"/><circle cx="1193.8" cy="702.7" r="2.6" fill="#c4c4c4"/>
<circle cx="1175.6" cy="725.4" r="6.3" fill="#5e5e5e" stroke="#909090" stroke-width="2.2"/><ellipse cx="1175.6" cy="725.4" rx="3.3" ry="3.8" fill="#fefefe"/><circle cx="1175.6" cy="725.4" r="1.0" fill="#aaa"/>
<circle cx="1265.5" cy="738.6" r="6.3" fill="#5e5e5e" stroke="#909090" stroke-width="2.2"/><ellipse cx="1265.5" cy="738.6" rx="3.3" ry="3.8" fill="#fefefe"/><circle cx="1265.5" cy="738.6" r="1.0" fill="#aaa"/>
<circle cx="1278.5" cy="734.9" r="6.3" fill="#5e5e5e" stroke="#909090" stroke-width="2.2"/><ellipse cx="1278.5" cy="734.9" rx="3.3" ry="3.8" fill="#fefefe"/><circle cx="1278.5" cy="734.9" r="1.0" fill="#aaa"/>
<circle cx="1248.7" cy="759" r="6.3" fill="#5e5e5e" stroke="#909090" stroke-width="2.2"/><ellipse cx="1248.7" cy="759" rx="3.3" ry="3.8" fill="#fefefe"/><circle cx="1248.7" cy="759" r="1.0" fill="#aaa"/>
<circle cx="1193.4" cy="783" r="6.3" fill="#5e5e5e" stroke="#909090" stroke-width="2.2"/><ellipse cx="1193.4" cy="783" rx="3.3" ry="3.8" fill="#fefefe"/><circle cx="1193.4" cy="783" r="1.0" fill="#aaa"/>
<circle cx="1164.9" cy="793.9" r="6.3" fill="#5e5e5e" stroke="#909090" stroke-width="2.2"/><ellipse cx="1164.9" cy="793.9" rx="3.3" ry="3.8" fill="#fefefe"/><circle cx="1164.9" cy="793.9" r="1.0" fill="#aaa"/>
<circle cx="1250" cy="787.8" r="6.3" fill="#5e5e5e" stroke="#909090" stroke-width="2.2"/><ellipse cx="1250" cy="787.8" rx="3.3" ry="3.8" fill="#fefefe"/><circle cx="1250" cy="787.8" r="1.0" fill="#aaa"/>
<circle cx="1262.1" cy="794.5" r="5.6" fill="#575757" stroke="#787878" stroke-width="1.6"/><circle cx="1262.1" cy="794.5" r="2.6" fill="#c4c4c4"/>
<circle cx="1177" cy="765.6" r="5.6" fill="#575757" stroke="#787878" stroke-width="1.6"/><circle cx="1177" cy="765.6" r="2.6" fill="#c4c4c4"/>
<circle cx="1162.4" cy="762.9" r="5.6" fill="#575757" stroke="#787878" stroke-width="1.6"/><circle cx="1162.4" cy="762.9" r="2.6" fill="#c4c4c4"/>
<circle cx="1188" cy="715.5" r="4.4" fill="#4a4a4a" stroke="#575757" stroke-width="1.6"/><circle cx="1188" cy="715.5" r="1.3" fill="#5e5e5e"/>
<circle cx="1173.4" cy="739.8" r="4.4" fill="#4a4a4a" stroke="#575757" stroke-width="1.6"/><circle cx="1173.4" cy="739.8" r="1.3" fill="#5e5e5e"/>
<circle cx="1239.6" cy="750.7" r="4.4" fill="#4a4a4a" stroke="#575757" stroke-width="1.6"/><circle cx="1239.6" cy="750.7" r="1.3" fill="#5e5e5e"/>
<circle cx="1274.3" cy="716.7" r="4.4" fill="#4a4a4a" stroke="#575757" stroke-width="1.6"/><circle cx="1274.3" cy="716.7" r="1.3" fill="#5e5e5e"/>
</g>
<rect x="1251.5" y="793.1999999999999" width="39" height="3.6" fill="#e3201b"/>
<text class="sb" x="1252.0" y="784.3" textLength="37" lengthAdjust="spacingAndGlyphs">100 µm</text>
</g>
<path d="M1028.1 798.8V680.5H1293.0" fill="none" stroke="#8c8c8c" stroke-width="1"/>
<path d="M1028.6 798.2H1292.4V681.0" fill="none" stroke="#2c2c2c" stroke-width="1.2"/>
<g clip-path="url(#cp11)">
<rect x="1303.1" y="680.0" width="265.9" height="118.8" fill="#4e4e4e"/>
<g filter="url(#bs)" fill="#ffffff">
<rect x="1335" y="750" width="234" height="6" fill-opacity="0.12"/>
<rect x="1303" y="768" width="180" height="6" fill-opacity="0.11"/>
<rect x="1405" y="710" width="164" height="6" fill-opacity="0.1"/>
<rect x="1303" y="719" width="60" height="5" fill-opacity="0.08"/>
<rect x="1303" y="735" width="266" height="4" fill-opacity="0.05"/>
<rect x="1480" y="778" width="89" height="5" fill-opacity="0.08"/>
<rect x="1303" y="700" width="120" height="5" fill-opacity="0.06"/>
<rect x="1436" y="712" width="90" height="5" fill-opacity="0.08"/>
<rect x="1303" y="787" width="120" height="5" fill-opacity="0.06"/>
<rect x="1520" y="750" width="49" height="6" fill-opacity="0.06"/>
</g>
<g filter="url(#bl)">
<circle cx="1352.8" cy="679.6" r="5.6" fill="#575757" stroke="#787878" stroke-width="1.6"/><circle cx="1352.8" cy="679.6" r="2.6" fill="#c4c4c4"/>
<circle cx="1364.4" cy="680.2" r="5.6" fill="#575757" stroke="#787878" stroke-width="1.6"/><circle cx="1364.4" cy="680.2" r="2.6" fill="#c4c4c4"/>
<circle cx="1345.5" cy="731.5" r="6.3" fill="#5e5e5e" stroke="#909090" stroke-width="2.2"/><ellipse cx="1345.5" cy="731.5" rx="3.3" ry="3.8" fill="#fefefe"/><circle cx="1345.5" cy="731.5" r="1.0" fill="#aaa"/>
<circle cx="1307.3" cy="747.1" r="6.3" fill="#5e5e5e" stroke="#909090" stroke-width="2.2"/><ellipse cx="1307.3" cy="747.1" rx="3.3" ry="3.8" fill="#fefefe"/><circle cx="1307.3" cy="747.1" r="1.0" fill="#aaa"/>
<circle cx="1317.3" cy="756.8" r="6.3" fill="#5e5e5e" stroke="#909090" stroke-width="2.2"/><ellipse cx="1317.3" cy="756.8" rx="3.3" ry="3.8" fill="#fefefe"/><circle cx="1317.3" cy="756.8" r="1.0" fill="#aaa"/>
<circle cx="1306" cy="783.3" r="6.3" fill="#5e5e5e" stroke="#909090" stroke-width="2.2"/><ellipse cx="1306" cy="783.3" rx="3.3" ry="3.8" fill="#fefefe"/><circle cx="1306" cy="783.3" r="1.0" fill="#aaa"/>
<circle cx="1389.3" cy="773.6" r="6.3" fill="#5e5e5e" stroke="#909090" stroke-width="2.2"/><ellipse cx="1389.3" cy="773.6" rx="3.3" ry="3.8" fill="#fefefe"/><circle cx="1389.3" cy="773.6" r="1.0" fill="#aaa"/>
<circle cx="1422.1" cy="763.1" r="5.6" fill="#575757" stroke="#787878" stroke-width="1.6"/><circle cx="1422.1" cy="763.1" r="2.6" fill="#c4c4c4"/>
<circle cx="1430.6" cy="774.4" r="6.3" fill="#5e5e5e" stroke="#909090" stroke-width="2.2"/><ellipse cx="1430.6" cy="774.4" rx="3.3" ry="3.8" fill="#fefefe"/><circle cx="1430.6" cy="774.4" r="1.0" fill="#aaa"/>
<circle cx="1424.6" cy="793.3" r="6.3" fill="#5e5e5e" stroke="#909090" stroke-width="2.2"/><ellipse cx="1424.6" cy="793.3" rx="3.3" ry="3.8" fill="#fefefe"/><circle cx="1424.6" cy="793.3" r="1.0" fill="#aaa"/>
<circle cx="1419.1" cy="795.7" r="6.3" fill="#5e5e5e" stroke="#909090" stroke-width="2.2"/><ellipse cx="1419.1" cy="795.7" rx="3.3" ry="3.8" fill="#fefefe"/><circle cx="1419.1" cy="795.7" r="1.0" fill="#aaa"/>
<circle cx="1376.5" cy="723.4" r="4.4" fill="#4a4a4a" stroke="#575757" stroke-width="1.6"/><circle cx="1376.5" cy="723.4" r="1.3" fill="#5e5e5e"/>
<circle cx="1428.2" cy="731.5" r="4.4" fill="#4a4a4a" stroke="#575757" stroke-width="1.6"/><circle cx="1428.2" cy="731.5" r="1.3" fill="#5e5e5e"/>
<circle cx="1416" cy="752.5" r="4.4" fill="#4a4a4a" stroke="#575757" stroke-width="1.6"/><circle cx="1416" cy="752.5" r="1.3" fill="#5e5e5e"/>
<circle cx="1398.4" cy="789.9" r="4.4" fill="#4a4a4a" stroke="#575757" stroke-width="1.6"/><circle cx="1398.4" cy="789.9" r="1.3" fill="#5e5e5e"/>
<circle cx="1468.8" cy="691.8" r="6.3" fill="#5e5e5e" stroke="#909090" stroke-width="2.2"/><ellipse cx="1468.8" cy="691.8" rx="3.3" ry="3.8" fill="#fefefe"/><circle cx="1468.8" cy="691.8" r="1.0" fill="#aaa"/>
<circle cx="1484.6" cy="692.4" r="6.3" fill="#5e5e5e" stroke="#909090" stroke-width="2.2"/><ellipse cx="1484.6" cy="692.4" rx="3.3" ry="3.8" fill="#fefefe"/><circle cx="1484.6" cy="692.4" r="1.0" fill="#aaa"/>
<circle cx="1565.5" cy="705.5" r="6.3" fill="#5e5e5e" stroke="#909090" stroke-width="2.2"/><ellipse cx="1565.5" cy="705.5" rx="3.3" ry="3.8" fill="#fefefe"/><circle cx="1565.5" cy="705.5" r="1.0" fill="#aaa"/>
<circle cx="1446.3" cy="726.4" r="6.3" fill="#5e5e5e" stroke="#909090" stroke-width="2.2"/><ellipse cx="1446.3" cy="726.4" rx="3.3" ry="3.8" fill="#fefefe"/><circle cx="1446.3" cy="726.4" r="1.0" fill="#aaa"/>
<circle cx="1550.3" cy="735.2" r="6.3" fill="#5e5e5e" stroke="#909090" stroke-width="2.2"/><ellipse cx="1550.3" cy="735.2" rx="3.3" ry="3.8" fill="#fefefe"/><circle cx="1550.3" cy="735.2" r="1.0" fill="#aaa"/>
<circle cx="1512.8" cy="759.2" r="6.3" fill="#5e5e5e" stroke="#909090" stroke-width="2.2"/><ellipse cx="1512.8" cy="759.2" rx="3.3" ry="3.8" fill="#fefefe"/><circle cx="1512.8" cy="759.2" r="1.0" fill="#aaa"/>
<circle cx="1565.5" cy="763.5" r="6.3" fill="#5e5e5e" stroke="#909090" stroke-width="2.2"/><ellipse cx="1565.5" cy="763.5" rx="3.3" ry="3.8" fill="#fefefe"/><circle cx="1565.5" cy="763.5" r="1.0" fill="#aaa"/>
<circle cx="1463.7" cy="782.6" r="6.3" fill="#5e5e5e" stroke="#909090" stroke-width="2.2"/><ellipse cx="1463.7" cy="782.6" rx="3.3" ry="3.8" fill="#fefefe"/><circle cx="1463.7" cy="782.6" r="1.0" fill="#aaa"/>
<circle cx="1517.2" cy="789" r="6.3" fill="#5e5e5e" stroke="#909090" stroke-width="2.2"/><ellipse cx="1517.2" cy="789" rx="3.3" ry="3.8" fill="#fefefe"/><circle cx="1517.2" cy="789" r="1.0" fill="#aaa"/>
<circle cx="1528.4" cy="795.1" r="6.3" fill="#5e5e5e" stroke="#909090" stroke-width="2.2"/><ellipse cx="1528.4" cy="795.1" rx="3.3" ry="3.8" fill="#fefefe"/><circle cx="1528.4" cy="795.1" r="1.0" fill="#aaa"/>
<circle cx="1452.4" cy="765.9" r="5.6" fill="#575757" stroke="#787878" stroke-width="1.6"/><circle cx="1452.4" cy="765.9" r="2.6" fill="#c4c4c4"/>
<circle cx="1449.4" cy="692.4" r="4.4" fill="#4a4a4a" stroke="#575757" stroke-width="1.6"/><circle cx="1449.4" cy="692.4" r="1.3" fill="#5e5e5e"/>
<circle cx="1549.7" cy="717.9" r="4.4" fill="#4a4a4a" stroke="#575757" stroke-width="1.6"/><circle cx="1549.7" cy="717.9" r="1.3" fill="#5e5e5e"/>
<circle cx="1549" cy="766.5" r="4.4" fill="#4a4a4a" stroke="#575757" stroke-width="1.6"/><circle cx="1549" cy="766.5" r="1.3" fill="#5e5e5e"/>
</g>
<rect x="1527.5" y="793.1999999999999" width="39" height="3.6" fill="#e3201b"/>
<text class="sb" x="1528.0" y="784.3" textLength="37" lengthAdjust="spacingAndGlyphs">100 µm</text>
</g>
<path d="M1303.6 798.8V680.5H1569.0" fill="none" stroke="#8c8c8c" stroke-width="1"/>
<path d="M1304.1 798.2H1568.4V681.0" fill="none" stroke="#2c2c2c" stroke-width="1.2"/>
<g clip-path="url(#cp20)">
<rect x="1027.6" y="808.0" width="265.4" height="118.9" fill="#4d4d4d"/>
<g filter="url(#bl)">
<circle cx="1050.7" cy="833.1" r="5.6" fill="#575757" stroke="#787878" stroke-width="1.6"/><circle cx="1050.7" cy="833.1" r="2.6" fill="#c4c4c4"/>
<circle cx="1056.2" cy="860.5" r="6.3" fill="#5e5e5e" stroke="#909090" stroke-width="2.2"/><ellipse cx="1056.2" cy="860.5" rx="3.3" ry="3.8" fill="#fefefe"/><circle cx="1056.2" cy="860.5" r="1.0" fill="#aaa"/>
<circle cx="1034.1" cy="883" r="6.3" fill="#5e5e5e" stroke="#909090" stroke-width="2.2"/><ellipse cx="1034.1" cy="883" rx="3.3" ry="3.8" fill="#fefefe"/><circle cx="1034.1" cy="883" r="1.0" fill="#aaa"/>
<circle cx="1122.4" cy="846.1" r="6.3" fill="#5e5e5e" stroke="#909090" stroke-width="2.2"/><ellipse cx="1122.4" cy="846.1" rx="3.3" ry="3.8" fill="#fefefe"/><circle cx="1122.4" cy="846.1" r="1.0" fill="#aaa"/>
<circle cx="1145.5" cy="856.2" r="6.3" fill="#5e5e5e" stroke="#909090" stroke-width="2.2"/><ellipse cx="1145.5" cy="856.2" rx="3.3" ry="3.8" fill="#fefefe"/><circle cx="1145.5" cy="856.2" r="1.0" fill="#aaa"/>
<circle cx="1112.1" cy="868.4" r="6.3" fill="#5e5e5e" stroke="#909090" stroke-width="2.2"/><ellipse cx="1112.1" cy="868.4" rx="3.3" ry="3.8" fill="#fefefe"/><circle cx="1112.1" cy="868.4" r="1.0" fill="#aaa"/>
<circle cx="1131.5" cy="871.2" r="6.3" fill="#5e5e5e" stroke="#909090" stroke-width="2.2"/><ellipse cx="1131.5" cy="871.2" rx="3.3" ry="3.8" fill="#fefefe"/><circle cx="1131.5" cy="871.2" r="1.0" fill="#aaa"/>
<circle cx="1154.6" cy="876.5" r="6.3" fill="#5e5e5e" stroke="#909090" stroke-width="2.2"/><ellipse cx="1154.6" cy="876.5" rx="3.3" ry="3.8" fill="#fefefe"/><circle cx="1154.6" cy="876.5" r="1.0" fill="#aaa"/>
<circle cx="1048.9" cy="811.3" r="4.4" fill="#4a4a4a" stroke="#575757" stroke-width="1.6"/><circle cx="1048.9" cy="811.3" r="1.3" fill="#5e5e5e"/>
<circle cx="1131" cy="831.3" r="4.4" fill="#4a4a4a" stroke="#575757" stroke-width="1.6"/><circle cx="1131" cy="831.3" r="1.3" fill="#5e5e5e"/>
<circle cx="1106.6" cy="849.5" r="4.4" fill="#4a4a4a" stroke="#575757" stroke-width="1.6"/><circle cx="1106.6" cy="849.5" r="1.3" fill="#5e5e5e"/>
<circle cx="1140.7" cy="878.1" r="4.4" fill="#4a4a4a" stroke="#575757" stroke-width="1.6"/><circle cx="1140.7" cy="878.1" r="1.3" fill="#5e5e5e"/>
<circle cx="1135.8" cy="895.7" r="4.4" fill="#4a4a4a" stroke="#575757" stroke-width="1.6"/><circle cx="1135.8" cy="895.7" r="1.3" fill="#5e5e5e"/>
<circle cx="1113.9" cy="898.8" r="4.4" fill="#4a4a4a" stroke="#575757" stroke-width="1.6"/><circle cx="1113.9" cy="898.8" r="1.3" fill="#5e5e5e"/>
<circle cx="1129.1" cy="917" r="5.6" fill="#575757" stroke="#787878" stroke-width="1.6"/><circle cx="1129.1" cy="917" r="2.6" fill="#c4c4c4"/>
<circle cx="1269.4" cy="808.2" r="5.6" fill="#575757" stroke="#787878" stroke-width="1.6"/><circle cx="1269.4" cy="808.2" r="2.6" fill="#c4c4c4"/>
<circle cx="1268.4" cy="831.1" r="6.3" fill="#5e5e5e" stroke="#909090" stroke-width="2.2"/><ellipse cx="1268.4" cy="831.1" rx="3.3" ry="3.8" fill="#fefefe"/><circle cx="1268.4" cy="831.1" r="1.0" fill="#aaa"/>
<circle cx="1287.6" cy="842.9" r="6.3" fill="#5e5e5e" stroke="#909090" stroke-width="2.2"/><ellipse cx="1287.6" cy="842.9" rx="3.3" ry="3.8" fill="#fefefe"/><circle cx="1287.6" cy="842.9" r="1.0" fill="#aaa"/>
<circle cx="1225.4" cy="859" r="6.3" fill="#5e5e5e" stroke="#909090" stroke-width="2.2"/><ellipse cx="1225.4" cy="859" rx="3.3" ry="3.8" fill="#fefefe"/><circle cx="1225.4" cy="859" r="1.0" fill="#aaa"/>
<circle cx="1221.4" cy="890.6" r="6.3" fill="#5e5e5e" stroke="#909090" stroke-width="2.2"/><ellipse cx="1221.4" cy="890.6" rx="3.3" ry="3.8" fill="#fefefe"/><circle cx="1221.4" cy="890.6" r="1.0" fill="#aaa"/>
<circle cx="1206" cy="899.1" r="6.3" fill="#5e5e5e" stroke="#909090" stroke-width="2.2"/><ellipse cx="1206" cy="899.1" rx="3.3" ry="3.8" fill="#fefefe"/><circle cx="1206" cy="899.1" r="1.0" fill="#aaa"/>
<circle cx="1180.1" cy="902.4" r="6.3" fill="#5e5e5e" stroke="#909090" stroke-width="2.2"/><ellipse cx="1180.1" cy="902.4" rx="3.3" ry="3.8" fill="#fefefe"/><circle cx="1180.1" cy="902.4" r="1.0" fill="#aaa"/>
<circle cx="1183.3" cy="892.7" r="5.6" fill="#575757" stroke="#787878" stroke-width="1.6"/><circle cx="1183.3" cy="892.7" r="2.6" fill="#c4c4c4"/>
<circle cx="1245.1" cy="918.8" r="4.4" fill="#4a4a4a" stroke="#575757" stroke-width="1.6"/><circle cx="1245.1" cy="918.8" r="1.3" fill="#5e5e5e"/>
<circle cx="1200" cy="830" r="4.4" fill="#4a4a4a" stroke="#575757" stroke-width="1.6"/><circle cx="1200" cy="830" r="1.3" fill="#5e5e5e"/>
</g>
<rect x="1251.5" y="921.3" width="39" height="3.6" fill="#e3201b"/>
<text class="sb" x="1252.0" y="912.4" textLength="37" lengthAdjust="spacingAndGlyphs">100 µm</text>
</g>
<path d="M1028.1 926.9V808.5H1293.0" fill="none" stroke="#8c8c8c" stroke-width="1"/>
<path d="M1028.6 926.3H1292.4V809.0" fill="none" stroke="#2c2c2c" stroke-width="1.2"/>
<g clip-path="url(#cp21)">
<rect x="1303.1" y="808.0" width="265.9" height="118.9" fill="#4e4e4e"/>
<g filter="url(#bs)" fill="#ffffff">
<rect x="1303" y="843" width="48" height="7" fill-opacity="0.16"/>
<rect x="1303" y="866" width="160" height="8" fill-opacity="0.16"/>
<rect x="1321" y="815" width="100" height="9" fill-opacity="0.11"/>
<rect x="1421" y="819" width="140" height="8" fill-opacity="0.06"/>
<rect x="1303" y="895" width="150" height="6" fill-opacity="0.1"/>
<rect x="1483" y="839" width="86" height="8" fill-opacity="0.12"/>
<rect x="1533" y="822" width="36" height="8" fill-opacity="0.12"/>
<rect x="1303" y="855" width="120" height="5" fill-opacity="0.08"/>
<rect x="1303" y="884" width="266" height="4" fill-opacity="0.05"/>
<rect x="1436" y="869" width="55" height="7" fill-opacity="0.1"/>
<rect x="1500" y="897" width="30" height="6" fill-opacity="0.08"/>
<rect x="1303" y="908" width="200" height="5" fill-opacity="0.05"/>
<rect x="1360" y="830" width="200" height="5" fill-opacity="0.05"/>
</g>
<g filter="url(#bl)">
<circle cx="1384.2" cy="846.1" r="6.3" fill="#5e5e5e" stroke="#909090" stroke-width="2.2"/><ellipse cx="1384.2" cy="846.1" rx="3.3" ry="3.8" fill="#fefefe"/><circle cx="1384.2" cy="846.1" r="1.0" fill="#aaa"/>
<circle cx="1379.8" cy="868.8" r="6.3" fill="#5e5e5e" stroke="#909090" stroke-width="2.2"/><ellipse cx="1379.8" cy="868.8" rx="3.3" ry="3.8" fill="#fefefe"/><circle cx="1379.8" cy="868.8" r="1.0" fill="#aaa"/>
<circle cx="1323.1" cy="811.9" r="4.4" fill="#4a4a4a" stroke="#575757" stroke-width="1.6"/><circle cx="1323.1" cy="811.9" r="1.3" fill="#5e5e5e"/>
<circle cx="1404.5" cy="832.5" r="4.4" fill="#4a4a4a" stroke="#575757" stroke-width="1.6"/><circle cx="1404.5" cy="832.5" r="1.3" fill="#5e5e5e"/>
<circle cx="1363.2" cy="835.6" r="4.4" fill="#4a4a4a" stroke="#575757" stroke-width="1.6"/><circle cx="1363.2" cy="835.6" r="1.3" fill="#5e5e5e"/>
<circle cx="1423.4" cy="880" r="4.4" fill="#4a4a4a" stroke="#575757" stroke-width="1.6"/><circle cx="1423.4" cy="880" r="1.3" fill="#5e5e5e"/>
<circle cx="1404.5" cy="898.2" r="4.4" fill="#4a4a4a" stroke="#575757" stroke-width="1.6"/><circle cx="1404.5" cy="898.2" r="1.3" fill="#5e5e5e"/>
<circle cx="1405.1" cy="917" r="5.6" fill="#575757" stroke="#787878" stroke-width="1.6"/><circle cx="1405.1" cy="917" r="2.6" fill="#c4c4c4"/>
<circle cx="1452.4" cy="903" r="6.3" fill="#5e5e5e" stroke="#909090" stroke-width="2.2"/><ellipse cx="1452.4" cy="903" rx="3.3" ry="3.8" fill="#fefefe"/><circle cx="1452.4" cy="903" r="1.0" fill="#aaa"/>
<circle cx="1459.3" cy="893.1" r="5.6" fill="#575757" stroke="#787878" stroke-width="1.6"/><circle cx="1459.3" cy="893.1" r="2.6" fill="#c4c4c4"/>
<circle cx="1476.1" cy="830.7" r="4.4" fill="#4a4a4a" stroke="#575757" stroke-width="1.6"/><circle cx="1476.1" cy="830.7" r="1.3" fill="#5e5e5e"/>
<circle cx="1557" cy="843.5" r="4.4" fill="#4a4a4a" stroke="#575757" stroke-width="1.6"/><circle cx="1557" cy="843.5" r="1.3" fill="#5e5e5e"/>
<circle cx="1521.1" cy="918.8" r="4.4" fill="#4a4a4a" stroke="#575757" stroke-width="1.6"/><circle cx="1521.1" cy="918.8" r="1.3" fill="#5e5e5e"/>
</g>
<rect x="1527.5" y="921.3" width="39" height="3.6" fill="#e3201b"/>
<text class="sb" x="1528.0" y="912.4" textLength="37" lengthAdjust="spacingAndGlyphs">100 µm</text>
</g>
<path d="M1303.6 926.9V808.5H1569.0" fill="none" stroke="#8c8c8c" stroke-width="1"/>
<path d="M1304.1 926.3H1568.4V809.0" fill="none" stroke="#2c2c2c" stroke-width="1.2"/>
</svg></body></html>
